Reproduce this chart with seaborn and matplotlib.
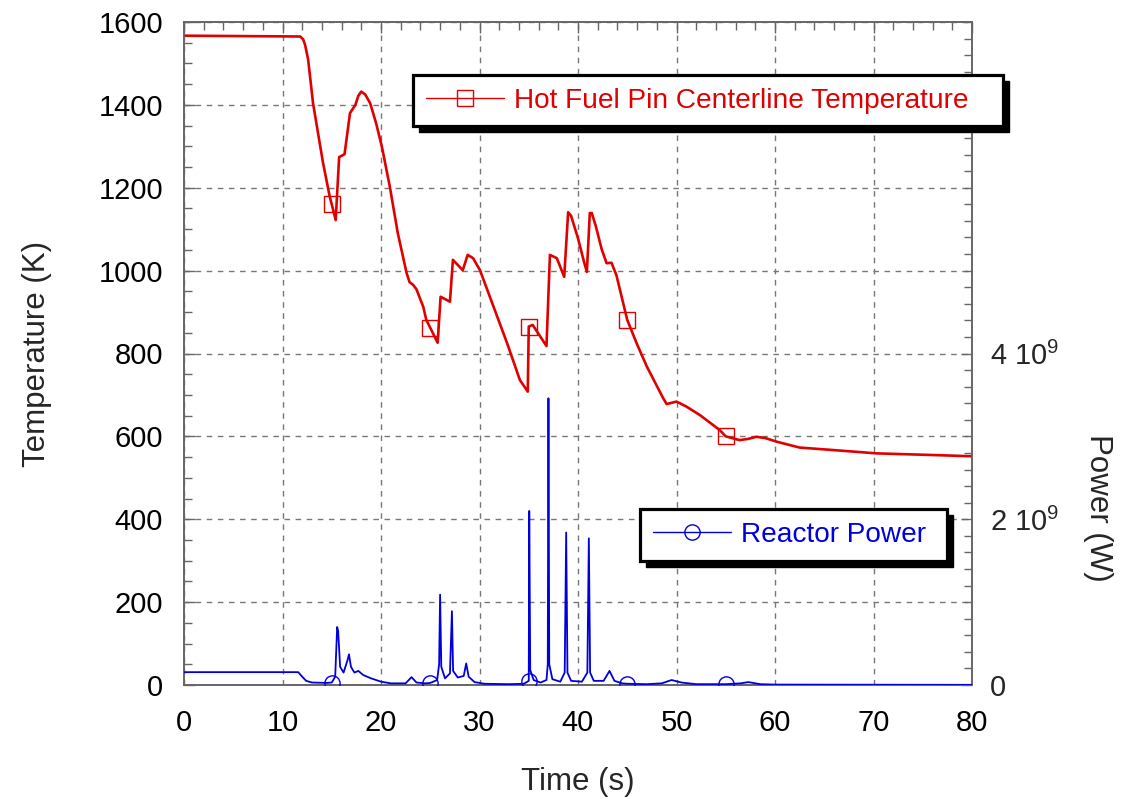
import numpy as np
import pandas as pd
import matplotlib
matplotlib.use("Agg")
import matplotlib.pyplot as plt
import seaborn as sns
from matplotlib.ticker import MultipleLocator, FixedLocator, FuncFormatter
from matplotlib.lines import Line2D
from matplotlib.patches import Rectangle

# ---------------- data ----------------
temp_time = [0, 11.8, 12.1, 12.3, 12.6, 13.1, 14.1, 14.8, 15.0, 15.4, 15.75, 16.3,
             16.85, 17.4, 17.7, 18.0, 18.4, 18.9, 19.5, 20.1, 20.9, 21.7, 22.6, 22.9,
             23.25, 23.6, 24.3, 24.6, 25.0, 25.75, 26.05, 27.0, 27.3, 28.3, 28.8,
             29.35, 30.05, 32.8, 34.1, 34.9, 35.0, 35.4, 36.8, 37.15, 37.85, 38.6,
             39.0, 39.3, 40.0, 40.6, 40.9, 41.2, 41.4, 41.8, 42.4, 42.9, 43.4, 43.9,
             45.0, 46.0, 47.0, 48.65, 49.0, 50.0, 51.0, 52.4, 54.4, 55.0, 56.4, 57.3,
             58.1, 59.0, 60.2, 62.5, 65.9, 70.3, 76.0, 80.0]
temp_value = [1567, 1565, 1558, 1544, 1510, 1404, 1262, 1178, 1160, 1122, 1274, 1281,
              1380, 1400, 1422, 1432, 1425, 1404, 1356, 1298, 1202, 1091, 994, 972,
              966, 955, 912, 881, 862, 826, 937, 925, 1026, 1001, 1038,
              1030, 1001, 825, 736, 708, 865, 869, 818, 1038, 1030, 985,
              1141, 1132, 1078, 1022, 997, 1139, 1139, 1108, 1052, 1018, 1019, 989,
              881, 822, 768, 692, 678, 684, 672, 651, 615, 600, 591, 594,
              599, 596, 587, 573, 567, 559, 555, 552]

power_time = [0, 11.6, 12.0, 12.4, 13.0, 14.5, 15.0, 15.35, 15.55, 15.65, 15.85, 16.2,
              16.6, 16.75, 16.95, 17.3, 17.7, 18.2, 19.0, 20.0, 21.0, 22.5, 23.1, 23.6,
              24.5, 25.0, 25.7, 25.9, 26.0, 26.12, 26.5, 27.0, 27.2, 27.32, 27.8, 28.4,
              28.65, 28.9, 29.5, 30.5, 33.0, 34.5, 35.0, 35.05, 35.15, 35.5, 36.2, 36.8,
              36.93, 37.0, 37.08, 37.4, 38.2, 38.65, 38.8, 38.93, 39.3, 40.4, 40.95,
              41.1, 41.23, 41.6, 42.6, 43.2, 43.7, 44.5, 45.0, 47.0, 48.5, 49.5, 50.5,
              52.0, 55.0, 56.5, 57.3, 58.5, 60.0, 80.0]
power_value = [1.55e8, 1.55e8, 1.0e8, 0.5e8, 0.3e8, 0.25e8, 0.3e8, 1.0e8, 7.0e8, 6.5e8,
               2.2e8, 1.5e8, 3.0e8, 3.7e8, 2.2e8, 1.5e8, 1.7e8, 1.2e8, 0.8e8, 0.4e8,
               0.2e8, 0.2e8, 0.95e8, 0.3e8, 0.2e8, 0.25e8, 0.6e8, 2.5e8, 1.09e9, 2.2e8,
               0.8e8, 1.4e8, 8.9e8, 1.7e8, 0.9e8, 1.1e8, 2.6e8, 1.0e8, 0.35e8, 0.15e8,
               0.1e8, 0.15e8, 0.5e8, 2.1e9, 1.8e8, 0.6e8, 0.3e8, 0.6e8, 2.5e8, 3.46e9,
               2.5e8, 0.7e8, 0.4e8, 1.5e8, 1.84e9, 1.5e8, 0.5e8, 0.4e8, 1.5e8, 1.77e9,
               1.5e8, 0.5e8, 0.5e8, 1.7e8, 0.5e8, 0.2e8, 0.15e8, 0.1e8, 0.2e8, 0.6e8,
               0.3e8, 0.1e8, 0.1e8, 0.2e8, 0.35e8, 0.1e8, 0.05e8, 0.02e8]

marker_times = [15, 25, 35, 45, 55]
temp_label = "Hot Fuel Pin Centerline Temperature"
power_label = "Reactor Power"

# ---------------- style ----------------
sns.set_style("white")
plt.rcParams['font.family'] = ['Liberation Sans', 'DejaVu Sans']
plt.rcParams['mathtext.default'] = 'regular'

RED = '#e00000'
BLUE = '#0000dd'
FS = 21
LFS = 22.5

fig = plt.figure(figsize=(11.22, 7.99), dpi=100)
ax = fig.add_axes([184/1122, 114/799, 788/1122, 663/799])
ax2 = ax.twinx()

temp_df = pd.DataFrame({'time': temp_time, 'temp': temp_value})
power_df = pd.DataFrame({'time': power_time, 'power': power_value})

t_idx = [temp_time.index(m) for m in marker_times]
p_idx = [power_time.index(m) for m in marker_times]

sns.lineplot(data=temp_df, x='time', y='temp', ax=ax, sort=False, estimator=None,
             color=RED, linewidth=1.9, marker='s', markevery=t_idx, markersize=11,
             markerfacecolor='none', markeredgecolor=RED, markeredgewidth=1.0,
             zorder=3)
sns.lineplot(data=power_df, x='time', y='power', ax=ax2, sort=False, estimator=None,
             color=BLUE, linewidth=1.3, marker='o', markevery=p_idx, markersize=11,
             markerfacecolor='none', markeredgecolor=BLUE, markeredgewidth=1.0,
             zorder=3)

ax.set_xlim(0, 80)
ax.set_ylim(0, 1600)
ax2.set_ylim(0, 8e9)

ax.xaxis.set_major_locator(MultipleLocator(10))
ax.xaxis.set_minor_locator(MultipleLocator(2))
ax.yaxis.set_major_locator(MultipleLocator(200))
ax.yaxis.set_minor_locator(MultipleLocator(50))
ax.tick_params(axis='both', which='both', direction='in', top=True, right=False,
               labelsize=FS, colors='black')
ax.tick_params(axis='x', which='major', length=8, width=1, pad=17, color='#666666')
ax.tick_params(axis='y', which='major', length=8, width=1, pad=15, color='#666666')
ax.tick_params(which='minor', length=6, width=1, color='#666666')

ax2.yaxis.set_major_locator(FixedLocator([0, 2e9, 4e9]))
ax2.yaxis.set_minor_locator(MultipleLocator(0.2e9))
ax2.yaxis.set_major_formatter(FuncFormatter(
    lambda v, p: '0' if v == 0 else f'{int(round(v/1e9))} $10^{{9}}$'))
ax2.tick_params(axis='y', which='major', direction='in', length=8, width=1,
                pad=13, labelsize=FS, color='#666666')
ax2.tick_params(axis='y', which='minor', direction='in', length=6, width=1,
                color='#666666')

ax.grid(True, which='major', color='#777777', linestyle=(0, (4, 4)), linewidth=1)
ax.set_axisbelow(True)
for a in (ax, ax2):
    for s in a.spines.values():
        s.set_color('#666666')
        s.set_linewidth(1.2)

ax.set_xlabel('Time (s)', fontsize=LFS)
ax.set_ylabel('Temperature (K)', fontsize=LFS)
ax2.set_ylabel('Power (W)', fontsize=LFS, rotation=270)
ax.xaxis.set_label_coords(0.5, -0.124)
ax.yaxis.set_label_coords(-0.168, 0.5)
ax2.yaxis.set_label_coords(1.179, 0.267)

# ---------------- legends ----------------
h1 = Line2D([], [], color=RED, linewidth=1.0, marker='s', markersize=11,
            markerfacecolor='none', markeredgecolor=RED, markeredgewidth=1.0)
h2 = Line2D([], [], color=BLUE, linewidth=1.0, marker='o', markersize=11,
            markerfacecolor='none', markeredgecolor=BLUE, markeredgewidth=1.0)

common = dict(fontsize=20.2, fancybox=False, framealpha=1, edgecolor='black',
              handlelength=2.8, handletextpad=0.35, borderpad=0.45,
              borderaxespad=0, loc='upper left', mode='expand')
leg1 = ax2.legend([h1], [temp_label], bbox_to_anchor=(0.2906, 0.92, 0.7487, 0.0),
                  labelcolor=RED, **common)
ax2.add_artist(leg1)
leg2 = ax2.legend([h2], [power_label], bbox_to_anchor=(0.5787, 0.265, 0.3896, 0.0),
                  labelcolor=BLUE, **common)
for lg in (leg1, leg2):
    lg.get_frame().set_linewidth(2.3)
    lg.set_zorder(10)

fig.canvas.draw()
for lg in (leg1, leg2):
    bb = lg.get_window_extent()
    sh = Rectangle((bb.x0 + 6, bb.y0 - 6), bb.width, bb.height, transform=None,
                   facecolor='black', edgecolor='black', zorder=9, clip_on=False)
    ax2.add_artist(sh)

fig.savefig('out.png', dpi=100)
